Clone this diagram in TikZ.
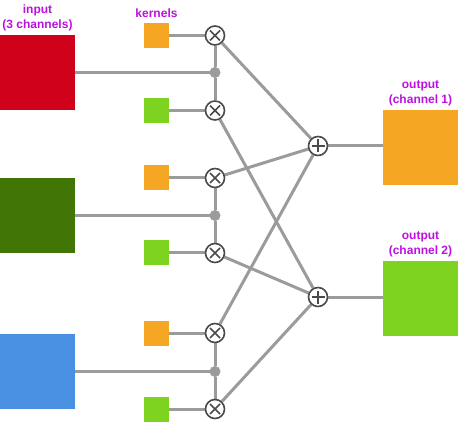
\documentclass[tikz,border=0pt]{standalone}
\usepackage{fontspec}
\setmainfont{Liberation Sans}
\usetikzlibrary{positioning,backgrounds}
\definecolor{chred}{HTML}{D0021B}
\definecolor{chgreen}{HTML}{417505}
\definecolor{chblue}{HTML}{4A90E2}
\definecolor{kerorange}{HTML}{F5A623}
\definecolor{kergreen}{HTML}{7ED321}
\definecolor{labelpurple}{HTML}{BD10E0}
\definecolor{wiregray}{HTML}{9B9B9B}
\definecolor{opdark}{HTML}{4A4A4A}

\begin{document}
\begin{tikzpicture}[
    x=1pt, y=-1pt,
    channel/.style={rectangle, draw=none, fill=#1, minimum size=75pt, inner sep=0pt},
    kernel/.style={rectangle, draw=none, fill=#1, minimum size=25pt, inner sep=0pt},
    mult/.style={circle, draw=opdark, fill=white, line width=1.6pt,
                 minimum size=19pt, inner sep=0pt,
                 path picture={
                   \draw[opdark, line width=1.5pt]
                     ([shift={(-5pt,-5pt)}]path picture bounding box.center) --
                     ([shift={(5pt,5pt)}]path picture bounding box.center)
                     ([shift={(-5pt,5pt)}]path picture bounding box.center) --
                     ([shift={(5pt,-5pt)}]path picture bounding box.center);}},
    add/.style={circle, draw=opdark, fill=white, line width=1.6pt,
                minimum size=19pt, inner sep=0pt,
                path picture={
                  \draw[opdark, line width=1.5pt]
                    ([shift={(-6.5pt,0pt)}]path picture bounding box.center) --
                    ([shift={(6.5pt,0pt)}]path picture bounding box.center)
                    ([shift={(0pt,-6.5pt)}]path picture bounding box.center) --
                    ([shift={(0pt,6.5pt)}]path picture bounding box.center);}},
    junction/.style={circle, draw=wiregray, fill=wiregray, minimum size=10.5pt, inner sep=0pt},
    wire/.style={draw=wiregray, line width=3pt},
    caption/.style={font=\fontsize{12}{15}\selectfont\bfseries, text=labelpurple, align=center}
]

\useasboundingbox (0,0) rectangle (458,422);

% input channels
\node[channel=chred] (in1) at (37.5,72.5) {};
\node[channel=chgreen] (in2) at (37.5,215.5) {};
\node[channel=chblue] (in3) at (37.5,371.5) {};
\node[caption, above=0pt of in1] (inLabel) {input\\(3 channels)};

% kernels
\node[kernel=kerorange] (k1) at (156.5,35.5) {};
\node[kernel=kergreen] (k2) at (156.5,110.5) {};
\node[kernel=kerorange] (k3) at (156.5,178) {};
\node[kernel=kergreen] (k4) at (156.5,253) {};
\node[kernel=kerorange] (k5) at (156.5,333) {};
\node[kernel=kergreen] (k6) at (156.5,409) {};
\node[caption, above=2pt of k1] (kLabel) {kernels};

% products
\node[mult] (m1) at (215,35.5) {};
\node[mult] (m2) at (215,110.5) {};
\node[mult] (m3) at (215,178) {};
\node[mult] (m4) at (215,253) {};
\node[mult] (m5) at (215,333) {};
\node[mult] (m6) at (215,409) {};

\node[junction] (d1) at (215,72.5) {};
\node[junction] (d2) at (215,215.5) {};
\node[junction] (d3) at (215,371.5) {};

% sums and outputs
\node[add] (s1) at (318,146) {};
\node[add] (s2) at (318,297) {};
\node[channel=kerorange] (out1) at (420.5,147.5) {};
\node[channel=kergreen] (out2) at (420.5,298.5) {};
\node[caption, above=0pt of out1] (out1Label) {output\\(channel 1)};
\node[caption, above=0pt of out2] (out2Label) {output\\(channel 2)};

\begin{scope}[on background layer]
\draw[wire] (in1.east |- d1) -- (d1);
\draw[wire] (in2.east |- d2) -- (d2);
\draw[wire] (in3.east |- d3) -- (d3);
\draw[wire] (m1) -- (d1) -- (m2);
\draw[wire] (m3) -- (d2) -- (m4);
\draw[wire] (m5) -- (d3) -- (m6);
\draw[wire] (k1) -- (m1);
\draw[wire] (k2) -- (m2);
\draw[wire] (k3) -- (m3);
\draw[wire] (k4) -- (m4);
\draw[wire] (k5) -- (m5);
\draw[wire] (k6) -- (m6);
\draw[wire] (m1) -- (s1);
\draw[wire] (m3) -- (s1);
\draw[wire] (m5) -- (s1);
\draw[wire] (m2) -- (s2);
\draw[wire] (m4) -- (s2);
\draw[wire] (m6) -- (s2);
\draw[wire] (s1) -- (out1.west |- s1);
\draw[wire] (s2) -- (out2.west |- s2);
\end{scope}

\end{tikzpicture}
\end{document}
